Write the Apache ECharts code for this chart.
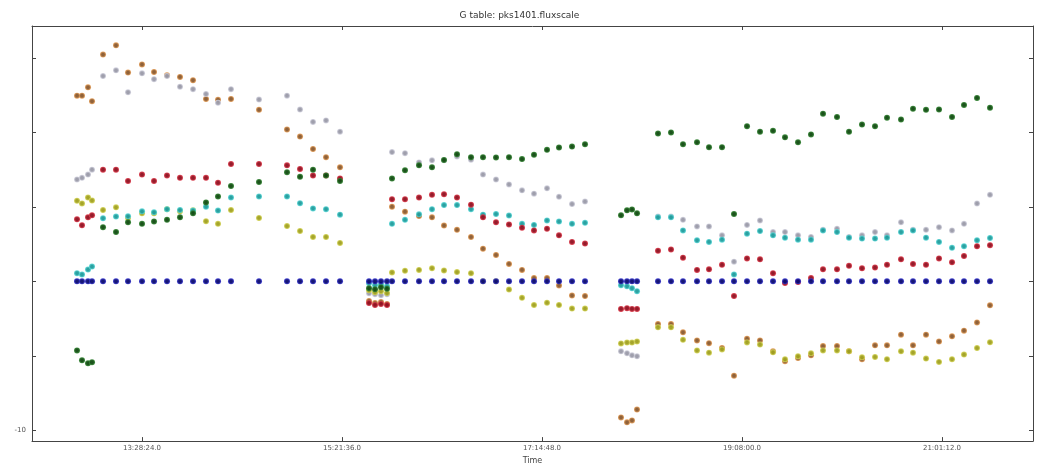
<!DOCTYPE html>
<html>
<head>
<meta charset="utf-8">
<script src="https://cdn.jsdelivr.net/npm/echarts@6/dist/echarts.min.js"></script>
<style>
  html, body { margin: 0; padding: 0; background: #fff; }
  #chart { width: 1039px; height: 470px; }
</style>
</head>
<body>
<div id="chart"></div>
<script>
// Scan times (UT), one entry per solution interval
const scanTimes = [
  "12:51:37","12:54:26","12:57:50","13:00:06","13:06:20","13:13:41","13:20:29","13:28:24","13:35:12","13:42:33","13:49:54","13:57:16","14:04:37","14:11:25","14:18:46","14:34:37","14:50:28","14:57:50","15:05:11","15:12:33","15:20:28",
  "15:36:53","15:40:17","15:43:40","15:47:04",
  "15:49:54","15:57:15","16:05:11","16:12:32","16:19:20","16:26:41","16:34:37","16:41:24","16:48:46","16:56:07","17:03:29","17:10:16","17:17:38","17:24:25","17:31:47","17:39:08",
  "17:59:31","18:02:55","18:05:44","18:08:34",
  "18:20:27","18:27:49","18:34:36","18:42:32","18:49:19","18:56:41","19:03:28","19:10:50","19:18:11","19:25:33","19:32:20","19:39:42","19:47:03","19:53:51","20:01:46","20:08:34","20:15:55","20:23:17","20:30:04","20:38:00","20:44:47","20:52:09","20:59:30","21:06:52","21:13:39","21:21:01","21:28:22"
];

// Gain phase (deg) per antenna; the reference antenna sits at zero
const phaseRef = [
  0,0,0,0,0,0,0,0,0,0,0,0,0,0,0,0,0,0,0,0,0,
  0,0,0,0,
  0,0,0,0,0,0,0,0,0,0,0,0,0,0,0,0,
  0,0,0,0,
  0,0,0,0,0,0,0,0,0,0,0,0,0,0,0,0,0,0,0,0,0,0,0,0,0,0,0
];
const phaseGreen = [
  -4.64,-5.30,-5.50,-5.43,3.64,3.31,3.97,3.86,4.02,4.13,4.30,4.57,5.30,5.70,6.40,6.67,7.33,7.02,7.50,7.11,6.74,
  -0.46,-0.53,-0.40,-0.50,
  6.91,7.46,7.79,7.66,8.15,8.54,8.34,8.34,8.32,8.34,8.21,8.50,8.83,8.99,9.05,9.21,
  4.44,4.77,4.83,4.57,
  9.93,10.00,9.21,9.34,9.01,9.01,4.52,10.42,10.05,10.11,9.67,9.34,9.87,11.26,11.04,10.05,10.53,10.42,10.99,10.87,11.59,11.52,11.54,11.04,11.85,12.32,11.66
];
const phaseRed = [
  4.17,3.77,4.30,4.44,7.50,7.50,6.74,7.17,6.74,7.11,6.95,6.95,6.95,6.62,7.88,7.88,7.79,7.55,7.11,7.11,6.91,
  -1.46,-1.59,-1.52,-1.59,
  5.52,5.52,5.63,5.81,5.85,5.63,5.15,4.30,3.97,3.82,3.60,3.42,3.53,3.09,2.65,2.54,
  -1.85,-1.80,-1.85,-1.85,
  2.05,2.14,1.59,0.77,0.81,1.11,-0.99,1.54,1.48,0.55,-0.11,-0.05,0.22,0.81,0.81,1.04,0.88,0.93,1.11,1.48,1.17,1.11,1.54,1.28,1.70,2.36,2.43
];
const phaseCyan = [
  0.55,0.46,0.79,0.99,4.24,4.35,4.37,4.70,4.64,4.85,4.79,4.75,5.01,4.75,5.63,5.70,5.70,5.25,4.90,4.85,4.48,
  -0.13,-0.26,-0.20,-0.33,
  3.86,4.13,4.50,4.85,5.12,5.12,4.85,4.48,4.52,4.42,3.86,3.79,4.09,4.02,3.86,3.93,
  -0.26,-0.33,-0.46,-0.66,
  4.30,4.30,3.42,2.76,2.65,2.80,0.46,3.20,3.38,3.09,2.93,2.80,2.80,3.42,3.31,2.93,2.87,2.87,2.93,3.31,3.42,2.93,2.65,2.25,2.36,2.76,2.91
];
const phaseYellow = [
  5.41,5.23,5.63,5.43,4.79,4.97,4.26,4.57,4.57,4.85,4.70,4.77,4.04,3.86,4.79,4.26,3.71,3.38,2.98,2.98,2.58,
  -0.60,-0.73,-0.66,-0.79,
  0.60,0.71,0.77,0.88,0.73,0.62,0.55,0.00,0.00,-0.55,-1.11,-1.59,-1.44,-1.59,-1.83,-1.83,
  -4.17,-4.11,-4.11,-4.04,
  -3.09,-3.09,-3.93,-4.64,-4.79,-4.57,null,-4.10,-4.25,-4.77,-5.23,-5.03,-4.83,-4.64,-4.64,-4.70,-5.10,-5.08,-5.23,-4.70,-4.79,-5.19,-5.41,-5.23,-4.92,-4.48,-4.09
];
const phaseSilver = [
  6.84,6.95,7.17,7.50,13.79,14.17,12.70,13.97,13.58,13.79,13.07,12.91,12.58,11.99,12.91,12.21,12.47,11.54,10.71,10.81,10.05,
  -0.80,-0.86,-0.93,-0.86,
  8.68,8.61,7.99,8.13,8.13,8.39,8.17,7.17,6.84,6.51,6.11,5.89,6.25,5.68,5.19,5.36,
  -4.70,-4.83,-4.97,-5.03,
  4.35,4.35,4.13,3.69,3.69,3.09,1.32,3.79,4.09,3.31,3.31,3.09,2.98,3.46,3.53,2.98,3.09,3.31,3.09,3.97,3.46,3.46,3.64,3.42,3.86,5.23,5.81
];
const phaseOrange = [
  12.47,12.47,13.03,12.10,15.23,15.85,14.02,14.57,14.06,13.84,13.73,13.51,12.25,12.19,12.25,11.52,10.20,9.72,8.89,8.34,7.66,
  -1.32,-1.46,-1.39,-1.52,
  5.01,4.68,4.39,4.30,3.75,3.46,2.98,2.19,1.77,1.17,0.77,0.22,0.22,-0.28,-0.95,-0.99,
  -9.14,-9.47,-9.34,-8.61,
  -2.87,-2.87,-3.42,-3.97,-4.15,-4.48,-6.34,-3.86,-3.97,-4.70,-5.36,-5.15,-4.97,-4.35,-4.35,-4.70,-5.23,-4.30,-4.30,-3.58,-4.30,-3.58,-4.04,-3.69,-3.31,-2.76,-1.61
];

// Axis ticks
const timeTicks = ["13:28:24","15:21:36","17:14:48","19:08:00","21:01:12"];
const phaseTicks = [-10, -5, 0, 5, 10, 15];
const phaseLabels = [-10];

function toSec(hms) {
  const p = hms.split(":").map(Number);
  return p[0] * 3600 + p[1] * 60 + p[2];
}
function pad(n) { return (n < 10 ? "0" : "") + n; }
function toHMS(s) {
  s = Math.round(s);
  return pad(Math.floor(s / 3600)) + ":" + pad(Math.floor((s % 3600) / 60)) + ":" + pad(s % 60) + ".0";
}

const tickSecs = timeTicks.map(toSec);

function pairs(vals) {
  const out = [];
  vals.forEach((v, i) => { if (v !== null) out.push([toSec(scanTimes[i]), v]); });
  return out;
}

// marker fill: darker core fading into the antenna colour
function dot(core, edge) {
  return {
    type: "radial", x: 0.5, y: 0.5, r: 0.5,
    colorStops: [{ offset: 0, color: core }, { offset: 0.45, color: core }, { offset: 1, color: edge }]
  };
}

const antennas = [
  { name: "orange", vals: phaseOrange, core: "#8a5a30", edge: "#e7a05a" },
  { name: "silver", vals: phaseSilver, core: "#9a9aa8", edge: "#d4d4e0" },
  { name: "yellow", vals: phaseYellow, core: "#a0a020", edge: "#d8d860" },
  { name: "cyan",   vals: phaseCyan,   core: "#209c9c", edge: "#60dada" },
  { name: "red",    vals: phaseRed,    core: "#901020", edge: "#e04050" },
  { name: "green",  vals: phaseGreen,  core: "#104a10", edge: "#3a8a3a" },
  { name: "ref",    vals: phaseRef,    core: "#0a0a70", edge: "#3a3ad0" }
];

const tMin = 44768, tMax = 78762;
const yMin = -10.73, yMax = 17.15;

const axisLine = { show: true, onZero: false, lineStyle: { color: "#444", width: 1 } };
const tickStyle = { lineStyle: { color: "#444", width: 1 } };

const chart = echarts.init(document.getElementById("chart"), null, { renderer: "canvas" });
chart.setOption({
  animation: false,
  backgroundColor: "#ffffff",
  title: {
    text: "G table: pks1401.fluxscale",
    left: "center", top: 6,
    textStyle: { fontSize: 9, fontWeight: "normal", color: "#333", fontFamily: "DejaVu Sans" }
  },
  grid: { left: 32, right: 6, top: 26, bottom: 23 },
  xAxis: [
    {
      type: "value", min: tMin, max: tMax, position: "bottom",
      name: "Time", nameLocation: "middle", nameGap: 14,
      nameTextStyle: { fontSize: 8, color: "#444", fontFamily: "DejaVu Sans" },
      axisLine: axisLine,
      axisTick: { show: true, inside: true, length: 4, customValues: tickSecs, ...tickStyle },
      axisLabel: {
        customValues: tickSecs, formatter: v => toHMS(v), margin: 4,
        fontSize: 7, color: "#555", fontFamily: "DejaVu Sans"
      },
      splitLine: { show: false }
    },
    {
      type: "value", min: tMin, max: tMax, position: "top",
      axisLine: axisLine,
      axisTick: { show: true, inside: true, length: 4, customValues: tickSecs, ...tickStyle },
      axisLabel: { show: false },
      splitLine: { show: false }
    }
  ],
  yAxis: [
    {
      type: "value", min: yMin, max: yMax, position: "left",
      axisLine: axisLine,
      axisTick: { show: true, inside: true, length: 4, customValues: phaseTicks, ...tickStyle },
      axisLabel: {
        customValues: phaseLabels, margin: 6,
        fontSize: 7, color: "#555", fontFamily: "DejaVu Sans"
      },
      splitLine: { show: false }
    },
    {
      type: "value", min: yMin, max: yMax, position: "right",
      axisLine: axisLine,
      axisTick: { show: true, inside: true, length: 4, customValues: phaseTicks, ...tickStyle },
      axisLabel: { show: false },
      splitLine: { show: false }
    }
  ],
  series: antennas.map(a => ({
    name: a.name,
    type: "scatter",
    xAxisIndex: 0, yAxisIndex: 0,
    symbol: "circle",
    symbolSize: 6,
    itemStyle: { color: dot(a.core, a.edge), opacity: 0.95 },
    data: pairs(a.vals)
  }))
});
</script>
</body>
</html>
